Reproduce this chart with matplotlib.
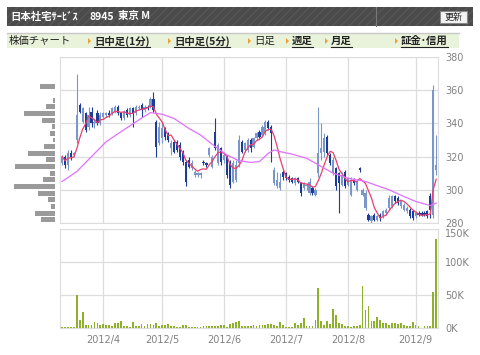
import numpy as np
import pandas as pd
import matplotlib
matplotlib.use('Agg')
import matplotlib.pyplot as plt
from matplotlib.patches import Rectangle, Polygon
from matplotlib.lines import Line2D

plt.rcParams['font.family'] = ['Noto Sans CJK JP', 'DejaVu Sans']

W, H = 480, 355

header_parts = ['日本社宅ｻｰﾋﾞｽ', '8945', '東京 M']
button_text = '更新'
menu_title = '株価チャート'
menu_items = ['日中足(1分)', '日中足(5分)', '日足', '週足', '月足', '証金･信用']
menu_links = [True, True, False, True, True, True]

month_labels = ['2012/4', '2012/5', '2012/6', '2012/7', '2012/8', '2012/9']
month_pos = [14, 34, 55, 76, 97, 120]   # first trading day of each month

# daily candles (trading-day index 0..127)
opens = [316, 320, 315, 322, 321, 330, 351, 341, 346, 338,
         347, 340, 346, 340, 344, 345, 346, 346, 347, 350,
         346, 343, 348, 345, 349, 346, 349, 351, 348, 350,
         350, 355, 341, 328, 331, 337, 334, 325, 329, 329,
         327, 323, 317, 318, 313, 309, 309, 309, 317, 316,
         321, 314, 335, 316, 325, 318, 320, 317, 305, 306,
         316, 329, 324, 324, 330, 326, 331, 335, 333, 334,
         341, 338, 304, 302, 301, 311, 310, 308, 307, 304,
         307, 304, 301, 302, 298, 301, 297, 310, 322, 323,
         332, 321, 310, 313, 310, 303, 311, 303, 297, 306,
         300, 313, 297, 289, 285, 281, 285, 282, 285, 284,
         286, 289, 290, 296, 295, 290, 288, 287, 288, 287,
         284, 286, 286, 286, 287, 296, 285, 312]
highs = [321, 321, 324, 324, 323, 370, 352, 350, 347, 350,
         350, 343, 348, 347, 347, 347, 348, 350, 351, 351,
         347, 348, 349, 350, 350, 351, 351, 352, 351, 351,
         356, 359, 342, 341, 340, 338, 335, 330, 330, 330,
         329, 324, 318, 320, 318, 312, 311, 311, 318, 317,
         326, 321, 343, 328, 326, 322, 321, 318, 318, 318,
         333, 330, 329, 331, 331, 332, 335, 336, 339, 342,
         342, 339, 314, 311, 310, 312, 311, 309, 308, 308,
         308, 305, 305, 304, 307, 302, 301, 350, 340, 334,
         333, 322, 320, 314, 311, 311, 312, 308, 308, 307,
         306, 314, 301, 300, 286, 285, 286, 285, 286, 288,
         289, 297, 297, 297, 296, 294, 292, 290, 289, 288,
         287, 287, 287, 287, 288, 298, 363, 333]
lows = [315, 313, 312, 318, 320, 328, 346, 340, 335, 336,
        338, 337, 339, 339, 343, 344, 344, 345, 346, 345,
        342, 342, 344, 344, 338, 345, 348, 344, 347, 348,
        349, 347, 320, 327, 328, 330, 329, 321, 322, 323,
        318, 315, 302, 313, 312, 308, 308, 307, 315, 314,
        320, 313, 324, 315, 315, 316, 307, 301, 304, 305,
        314, 322, 323, 323, 323, 325, 330, 331, 332, 333,
        336, 317, 303, 301, 300, 306, 306, 305, 304, 303,
        304, 296, 300, 300, 297, 297, 296, 308, 318, 320,
        321, 315, 309, 300, 286, 302, 301, 302, 296, 303,
        299, 311, 296, 288, 281, 280, 281, 281, 281, 283,
        285, 288, 289, 292, 291, 289, 287, 286, 283, 282,
        283, 284, 284, 284, 283, 283, 283, 309]
closes = [320, 315, 322, 320, 322, 345, 347, 349, 336, 345,
          340, 341, 340, 345, 346, 346, 345, 349, 350, 346,
          343, 347, 345, 349, 346, 350, 350, 348, 350, 349,
          355, 348, 326, 338, 337, 332, 330, 328, 323, 324,
          320, 317, 305, 314, 316, 311, 310, 310, 316, 315,
          325, 320, 325, 327, 317, 321, 309, 303, 316, 315,
          330, 323, 328, 330, 325, 331, 334, 332, 338, 341,
          337, 334, 312, 306, 305, 308, 307, 306, 305, 307,
          305, 298, 304, 303, 305, 298, 300, 322, 325, 331,
          322, 316, 318, 302, 304, 309, 302, 307, 306, 304,
          305, 312, 300, 298, 282, 284, 282, 284, 283, 287,
          288, 295, 296, 293, 292, 293, 291, 289, 284, 283,
          286, 285, 285, 285, 284, 288, 360, 315]

# volume in thousands of shares
volume_k = [2, 2, 2, 2, 1, 50, 12.6, 24, 5, 5,
            5, 9, 7, 5, 6.5, 5, 5, 2.5, 7.5, 7.5,
            10, 3.5, 2.5, 1.5, 9, 3.5, 3.5, 6, 2.5, 6,
            6, 5, 7, 2.5, 4, 5, 6, 2.5, 2.5, 1.5,
            2, 4, 4, 1.5, 2, 1.5, 1.5, 2, 3, 3.5,
            3, 3.5, 2.5, 2.5, 5, 4, 2, 6, 7, 9,
            10, 2.5, 2.5, 3, 3.5, 5, 3, 4, 4, 4,
            6, 6, 5, 3, 8.5, 4, 2, 2, 2, 7.5,
            5, 7.5, 15, 2.5, 2.5, 2.5, 12.6, 60, 10, 5,
            11, 6, 29, 19, 7, 6, 2.5, 2.5, 1.5, 3,
            2.5, 5, 63, 28, 33, 10, 10, 17, 12, 7,
            7, 5, 7, 7, 5.5, 7, 5, 3.5, 3.5, 9,
            4, 3, 0.5, 2.5, 2.5, 3, 55, 135]

# 25-day moving average
ma25_x = [0, 5, 10, 15, 20, 26, 30, 34, 38, 43, 47, 52, 56, 60, 64, 67, 70,
          72, 74, 78, 83, 86, 92, 97, 103, 111, 116, 120, 125, 127]
ma25_y = [305, 311, 320, 329, 335, 342, 346.5, 345.5, 343, 337, 333, 326, 321,
          317.5, 316.5, 317, 322, 324, 323, 321.5, 319, 316, 310, 307, 305,
          300, 296, 293, 290.5, 292]

# price-band volume profile (left side)
profile_price = [282, 286, 290, 294, 298, 302, 306, 310, 314, 318, 322,
                 326, 330, 334, 338, 342, 346, 350, 354, 358, 362]
profile_vol = [14, 20, 4, 7, 17, 41, 12, 5, 40, 9, 27,
               11, 1.5, 5, 3, 13, 31, 9, 2, 0, 15]

price_ticks = [280, 300, 320, 340, 360, 380]
vol_ticks = [0, 50, 100, 150]
vol_tick_labels = ['0K', '50K', '100K', '150K']

light_blue = '#7b97c9'
dark_blue = '#1d3c98'
grid_c = '#dddddd'
label_c = '#808080'


def fx(x):
    return x / W


def fy(y):
    return 1 - y / H


fig = plt.figure(figsize=(W / 100, H / 100), dpi=100)

# ---- header bar
fig.add_artist(Rectangle((fx(7), fy(26)), fx(473) - fx(7), 19 / H, transform=fig.transFigure,
                         fc='#4b4b4b', ec='#575757', hatch='////', lw=0))
for hx, part in zip([10, 90, 118], header_parts):
    fig.text(fx(hx), fy(16.5), part, color='white', fontsize=7.5, fontweight='bold', va='center')
fig.add_artist(Line2D([fx(376), fx(376)], [fy(7), fy(26)], color='#777777', lw=0.8))
fig.add_artist(Rectangle((fx(440), fy(23)), 27 / W, 12 / H, transform=fig.transFigure,
                         fc='#f4f4f4', ec='#888888', lw=0.8))
fig.text(fx(453.5), fy(17), button_text, color='#222222', fontsize=6.5, ha='center', va='center')

# ---- menu bar
fig.add_artist(Rectangle((fx(7), fy(48)), fx(459) - fx(7), 15 / H, transform=fig.transFigure,
                         fc='#e9f2da', lw=0))
fig.add_artist(Line2D([fx(7), fx(459)], [fy(33), fy(33)], color='#c8c8c8', lw=1))
fig.text(fx(9), fy(41), menu_title, fontsize=7.5, color='#222222', va='center')
tri_x = [88, 168, 248, 286, 325, 395]
menu_texts = []
for tx, item, link in zip(tri_x, menu_items, menu_links):
    fig.add_artist(Polygon([(fx(tx), fy(38)), (fx(tx), fy(44)), (fx(tx + 3), fy(41))],
                           closed=True, transform=fig.transFigure, fc='#f0a030', lw=0))
    t = fig.text(fx(tx + 6), fy(41), item, fontsize=7.5, color='#222222', va='center',
                 fontweight='bold' if link else 'normal')
    menu_texts.append((t, link))

# ---- price panel
ax = fig.add_axes([fx(60), fy(223), (438 - 60) / W, (223 - 57) / H])
idx = np.arange(len(closes))
o = np.array(opens, float)
c = np.array(closes, float)
up = c >= o
cols = np.where(up, light_blue, dark_blue)
ax.vlines(idx, lows, highs, colors=cols, lw=0.8, zorder=3)
body = np.maximum(np.abs(c - o), 0.8)
ax.bar(idx, body, bottom=np.minimum(o, c), width=0.75, color=cols, lw=0, zorder=3)
ma5 = pd.Series(c).rolling(5, min_periods=1).mean()
ax.plot(idx, ma5, color='#e8406e', lw=0.9, zorder=4)
ax.plot(ma25_x, ma25_y, color='#e070ff', lw=0.9, zorder=4)
ax.set_ylim(280, 380)
ax.set_xlim(-0.7, 127.6)
ax.set_yticks(price_ticks)
ax.set_xticks(month_pos)
ax.tick_params(axis='x', labelbottom=False, length=0)
ax.tick_params(axis='y', left=False, labelleft=False, right=False, labelright=True,
               length=0, pad=5, labelsize=7, labelcolor=label_c)
for lab in ax.get_yticklabels():
    lab.set_fontfamily('DejaVu Sans')
ax.grid(True, color=grid_c, lw=0.9)
ax.set_axisbelow(True)
for s in ax.spines.values():
    s.set_color(grid_c)

# ---- volume panel
axv = fig.add_axes([fx(60), fy(328), (438 - 60) / W, (328 - 229) / H])
axv.bar(idx, volume_k, width=0.6, color='#8db12c', lw=0, zorder=3)
axv.set_ylim(0, 150)
axv.set_xlim(-0.7, 127.6)
axv.set_yticks(vol_ticks)
axv.set_yticklabels(vol_tick_labels)
axv.set_xticks(month_pos)
axv.set_xticklabels(month_labels)
axv.tick_params(axis='x', length=0, pad=5, labelsize=7, labelcolor=label_c)
axv.tick_params(axis='y', left=False, labelleft=False, right=False, labelright=True,
                length=0, pad=5, labelsize=7, labelcolor=label_c)
for lab in axv.get_yticklabels() + axv.get_xticklabels():
    lab.set_fontfamily('DejaVu Sans')
axv.get_yticklabels()[-1].set_va('top')
axv.grid(True, color=grid_c, lw=0.9)
axv.set_axisbelow(True)
for s in axv.spines.values():
    s.set_color(grid_c)

# ---- volume-by-price profile
axp = fig.add_axes([fx(10), fy(223), (54.5 - 10) / W, (223 - 57) / H])
axp.barh(profile_price, profile_vol, height=3, color='#9a9a9a', lw=0)
axp.set_ylim(280, 380)
axp.set_xlim(max(profile_vol) * 44.5 / 41, 0)
axp.axis('off')

# underline the link items
fig.canvas.draw()
r = fig.canvas.get_renderer()
for t, link in menu_texts:
    if link:
        bb = t.get_window_extent(r)
        fig.add_artist(Line2D([bb.x0 / W, bb.x1 / W], [fy(46.5), fy(46.5)], color='#222222', lw=0.8))

fig.savefig('out.png', dpi=100)
